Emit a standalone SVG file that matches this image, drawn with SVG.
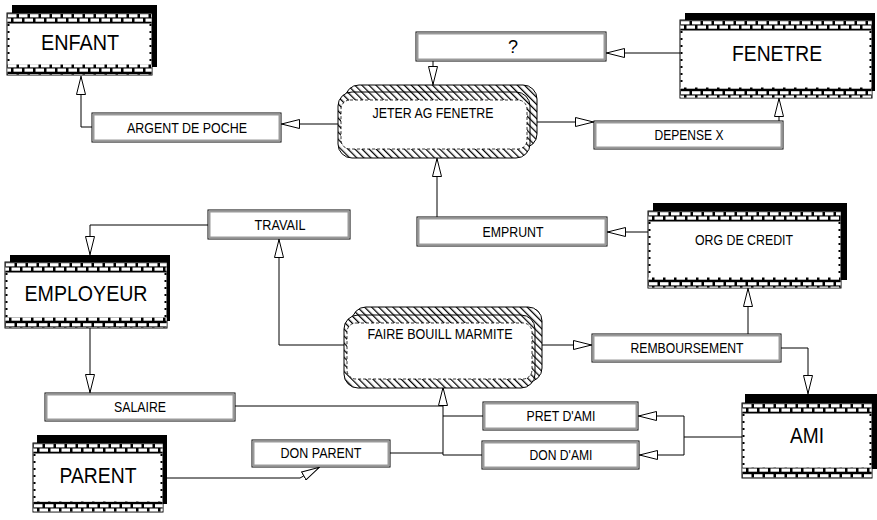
<svg xmlns="http://www.w3.org/2000/svg" width="877" height="520" viewBox="0 0 877 520">
<defs>
  <pattern id="brick" patternUnits="userSpaceOnUse" width="11" height="10">
    <rect width="11" height="10" fill="#000"/>
    <rect x="1" y="1.2" width="8.5" height="3.2" fill="#fff"/>
    <rect x="-4.5" y="5.5" width="8.5" height="3.2" fill="#fff"/>
    <rect x="6.5" y="5.5" width="8.5" height="3.2" fill="#fff"/>
  </pattern>
  <pattern id="hatch" patternUnits="userSpaceOnUse" width="5" height="5" patternTransform="rotate(-45)">
    <rect width="5" height="5" fill="#fff"/>
    <line x1="0.6" y1="0" x2="0.6" y2="5" stroke="#000" stroke-width="1.3"/>
  </pattern>
  <marker id="ar" viewBox="0 0 19 10" refX="19" refY="5" markerWidth="19" markerHeight="10" markerUnits="userSpaceOnUse" orient="auto">
    <path d="M0.5,0.5 L18.5,5 L0.5,9.5 Z" fill="#fff" stroke="#000" stroke-width="1"/>
  </marker>
</defs>
<style>
  text { font-family: "Liberation Sans", Arial, sans-serif; fill: #000; text-anchor: middle; }
  .big { font-size: 22px; }
  .sm { font-size: 14.5px; }
  .shadow { fill: #000; }
  .frame { fill: #fff; stroke: #000; stroke-width: 1; }
  .band { fill: url(#brick); }
  .side { fill: none; stroke: #000; stroke-width: 2; stroke-dasharray: 2 5; }
  .dbox { fill: #fff; stroke: #000; stroke-width: 1; }
  .dgray { fill: none; stroke: #9a9a9a; stroke-width: 2; }
  .pshape { fill: url(#hatch); stroke: #000; stroke-width: 1; }
  .pinner { fill: #fff; stroke: #000; stroke-width: 0.8; stroke-dasharray: 3 2; }
  .conn path { fill: none; stroke: #000; stroke-width: 1; }
  .ah { marker-end: url(#ar); }
</style>

<g id="connectors" class="conn">
  <path class="ah" d="M338,124 H281"/>
  <path class="ah" d="M92,127 H81 V76"/>
  <path class="ah" d="M680,53 H606"/>
  <path class="ah" d="M433,61 V85"/>
  <path class="ah" d="M537,122 H594"/>
  <path class="ah" d="M779,121 V98"/>
  <path class="ah" d="M437,217 V158"/>
  <path class="ah" d="M648,232 H607"/>
  <path class="ah" d="M748,334 V288"/>
  <path class="ah" d="M542,345 H592"/>
  <path class="ah" d="M781,348 H808 V394"/>
  <path class="ah" d="M344,345 H279 V239"/>
  <path class="ah" d="M208,225 H90 V255"/>
  <path class="ah" d="M90,328 V393"/>
  <path d="M235,406 H443"/>
  <path class="ah" d="M443,455 V387"/>
  <path d="M483,416 H443"/>
  <path d="M482,455 H443"/>
  <path d="M390,453 H443"/>
  <path d="M742,437 H684 V455"/>
  <path class="ah" d="M684,437 V416 H638"/>
  <path class="ah" d="M684,455 H639"/>
  <path class="ah" d="M163,478 H300 L320,467"/>
</g>

<g id="enfant" transform="translate(7,13)">
  <rect class="shadow" x="5" y="-8" width="145" height="62"/>
  <rect class="frame" x="0" y="0" width="145" height="62"/>
  <rect class="band" x="0.5" y="0.5" width="144" height="10"/>
  <rect class="band" x="0.5" y="51.5" width="144" height="10"/>
  <line class="side" x1="1.5" y1="11" x2="1.5" y2="51"/>
  <line class="side" x1="143.5" y1="11" x2="143.5" y2="51"/>
  <text class="big" x="73" y="37" textLength="78" lengthAdjust="spacingAndGlyphs">ENFANT</text>
</g>

<g id="fenetre" transform="translate(680,20)">
  <rect class="shadow" x="5" y="-7" width="190" height="78"/>
  <rect class="frame" x="0" y="0" width="192" height="78"/>
  <rect class="band" x="0.5" y="0.5" width="191" height="10"/>
  <rect class="band" x="0.5" y="67.5" width="191" height="10"/>
  <line class="side" x1="1.5" y1="11" x2="1.5" y2="67"/>
  <line class="side" x1="190.5" y1="11" x2="190.5" y2="67"/>
  <text class="big" x="97" y="41" textLength="90" lengthAdjust="spacingAndGlyphs">FENETRE</text>
</g>

<g id="employeur" transform="translate(5,262)">
  <rect class="shadow" x="5" y="-7" width="160" height="66"/>
  <rect class="frame" x="0" y="0" width="162" height="66"/>
  <rect class="band" x="0.5" y="0.5" width="161" height="10"/>
  <rect class="band" x="0.5" y="55.5" width="161" height="10"/>
  <line class="side" x1="1.5" y1="11" x2="1.5" y2="55"/>
  <line class="side" x1="160.5" y1="11" x2="160.5" y2="55"/>
  <text class="big" x="81" y="39" textLength="123" lengthAdjust="spacingAndGlyphs">EMPLOYEUR</text>
</g>

<g id="parent" transform="translate(33,443)">
  <rect class="shadow" x="4" y="-8" width="130" height="69"/>
  <rect class="frame" x="0" y="0" width="130" height="69"/>
  <rect class="band" x="0.5" y="0.5" width="129" height="10"/>
  <rect class="band" x="0.5" y="58.5" width="129" height="10"/>
  <line class="side" x1="1.5" y1="11" x2="1.5" y2="58"/>
  <line class="side" x1="128.5" y1="11" x2="128.5" y2="58"/>
  <text class="big" x="65" y="40" textLength="77" lengthAdjust="spacingAndGlyphs">PARENT</text>
</g>

<g id="ami" transform="translate(742,403)">
  <rect class="shadow" x="3" y="-9" width="132" height="75"/>
  <rect class="frame" x="0" y="0" width="130" height="75"/>
  <rect class="band" x="0.5" y="0.5" width="129" height="10"/>
  <rect class="band" x="0.5" y="64.5" width="129" height="10"/>
  <line class="side" x1="1.5" y1="11" x2="1.5" y2="64"/>
  <line class="side" x1="128.5" y1="11" x2="128.5" y2="64"/>
  <text class="big" x="65" y="40" textLength="34" lengthAdjust="spacingAndGlyphs">AMI</text>
</g>

<g id="org-de-credit" transform="translate(648,211)">
  <rect class="shadow" x="5" y="-8" width="194" height="77"/>
  <rect class="frame" x="0" y="0" width="193" height="77"/>
  <rect class="band" x="0.5" y="0.5" width="192" height="10"/>
  <rect class="band" x="0.5" y="66.5" width="192" height="10"/>
  <line class="side" x1="1.5" y1="11" x2="1.5" y2="66"/>
  <line class="side" x1="191.5" y1="11" x2="191.5" y2="66"/>
  <text class="sm" x="96" y="34" textLength="98" lengthAdjust="spacingAndGlyphs">ORG DE CREDIT</text>
</g>

<g id="jeter-ag-fenetre">
  <rect class="pshape" x="345" y="85" width="192" height="63" rx="14"/>
  <rect class="pshape" x="338" y="92" width="192" height="66" rx="14"/>
  <rect class="pinner" x="341" y="100" width="186" height="49" rx="9"/>
  <text class="sm" x="433" y="118" textLength="121" lengthAdjust="spacingAndGlyphs">JETER AG FENETRE</text>
</g>

<g id="faire-bouill-marmite">
  <rect class="pshape" x="352" y="307" width="190" height="75" rx="14"/>
  <rect class="pshape" x="344" y="315" width="191" height="73" rx="14"/>
  <rect class="pinner" x="347" y="323" width="185" height="56" rx="9"/>
  <text class="sm" x="440" y="339" textLength="145" lengthAdjust="spacingAndGlyphs">FAIRE BOUILL MARMITE</text>
</g>

<g id="question">
  <rect class="dbox" x="416" y="32" width="190" height="29"/>
  <rect class="dgray" x="417.5" y="33.5" width="187" height="26"/>
  <text x="513" y="53" style="font-size:18px">?</text>
</g>

<g id="argent-de-poche">
  <rect class="dbox" x="92" y="113" width="189" height="29"/>
  <rect class="dgray" x="93.5" y="114.5" width="186" height="26"/>
  <text class="sm" x="187" y="133" textLength="120" lengthAdjust="spacingAndGlyphs">ARGENT DE POCHE</text>
</g>

<g id="depense-x">
  <rect class="dbox" x="594" y="121" width="189" height="28"/>
  <rect class="dgray" x="595.5" y="122.5" width="186" height="25"/>
  <text class="sm" x="689" y="140" textLength="69" lengthAdjust="spacingAndGlyphs">DEPENSE X</text>
</g>

<g id="travail">
  <rect class="dbox" x="208" y="210" width="142" height="29"/>
  <rect class="dgray" x="209.5" y="211.5" width="139" height="26"/>
  <text class="sm" x="280" y="230" textLength="51" lengthAdjust="spacingAndGlyphs">TRAVAIL</text>
</g>

<g id="emprunt">
  <rect class="dbox" x="417" y="217" width="190" height="29"/>
  <rect class="dgray" x="418.5" y="218.5" width="187" height="26"/>
  <text class="sm" x="513" y="237" textLength="61" lengthAdjust="spacingAndGlyphs">EMPRUNT</text>
</g>

<g id="remboursement">
  <rect class="dbox" x="592" y="334" width="189" height="28"/>
  <rect class="dgray" x="593.5" y="335.5" width="186" height="25"/>
  <text class="sm" x="687" y="353" textLength="113" lengthAdjust="spacingAndGlyphs">REMBOURSEMENT</text>
</g>

<g id="salaire">
  <rect class="dbox" x="45" y="393" width="190" height="28"/>
  <rect class="dgray" x="46.5" y="394.5" width="187" height="25"/>
  <text class="sm" x="140" y="412" textLength="52" lengthAdjust="spacingAndGlyphs">SALAIRE</text>
</g>

<g id="pret-d-ami">
  <rect class="dbox" x="483" y="402" width="155" height="28"/>
  <rect class="dgray" x="484.5" y="403.5" width="152" height="25"/>
  <text class="sm" x="561" y="421" textLength="69" lengthAdjust="spacingAndGlyphs">PRET D'AMI</text>
</g>

<g id="don-d-ami">
  <rect class="dbox" x="482" y="441" width="157" height="28"/>
  <rect class="dgray" x="483.5" y="442.5" width="154" height="25"/>
  <text class="sm" x="561" y="460" textLength="63" lengthAdjust="spacingAndGlyphs">DON D'AMI</text>
</g>

<g id="don-parent">
  <rect class="dbox" x="252" y="440" width="138" height="27"/>
  <rect class="dgray" x="253.5" y="441.5" width="135" height="24"/>
  <text class="sm" x="321" y="458" textLength="81" lengthAdjust="spacingAndGlyphs">DON PARENT</text>
</g>
</svg>
